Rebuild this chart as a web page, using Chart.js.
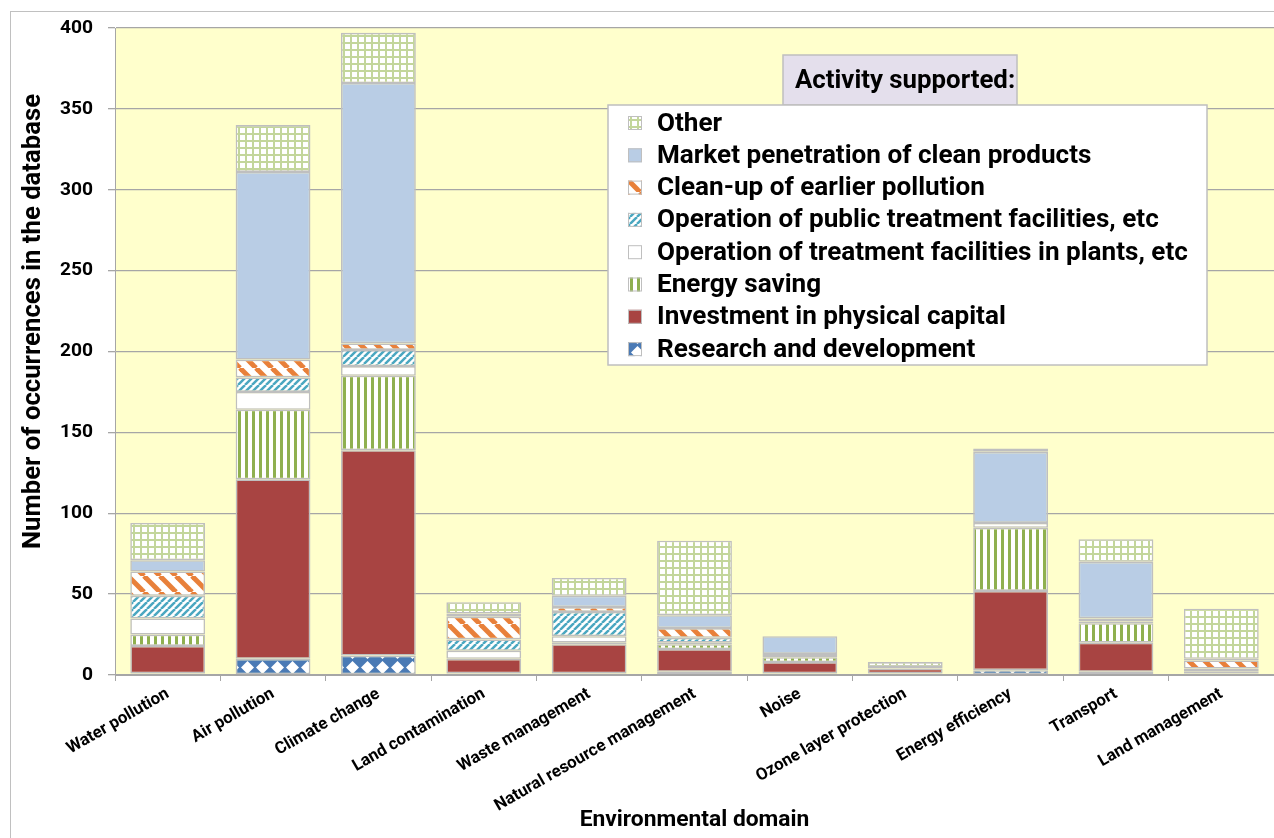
<!DOCTYPE html>
<html>
<head>
<meta charset="utf-8">
<script src="https://cdn.jsdelivr.net/npm/chart.js@4.4.1/dist/chart.umd.min.js"></script>
<style>
  html, body { margin: 0; padding: 0; background: #fff; }
  #wrap { width: 1274px; height: 838px; }
</style>
</head>
<body>
<div id="wrap"><canvas id="chart" width="1274" height="838"></canvas></div>
<script>
// categories (environmental domains)
const categories = [
    "Water pollution", "Air pollution", "Climate change", "Land contamination",
    "Waste management", "Natural resource management", "Noise",
    "Ozone layer protection", "Energy efficiency", "Transport", "Land management"
];

// series, bottom of the stack first
const researchDev       = [1, 10, 12, 1, 1, 2, 1, 1, 3, 2, 0];
const investment        = [17, 111, 127, 9, 18, 14, 7, 3, 49, 18, 1];
const energySaving      = [7, 43, 46, 0, 1, 3, 3, 0, 39, 12, 1];
const plantFacilities   = [10, 11, 6, 5, 4, 1, 2, 1, 3, 1, 2];
const publicFacilities  = [14, 9, 10, 7, 15, 3, 0, 0, 0, 2, 0];
const cleanUp           = [15, 11, 4, 14, 3, 6, 0, 0, 0, 0, 5];
const marketPenetration = [7, 116, 161, 2, 7, 8, 11, 0, 44, 35, 1];
const other             = [23, 29, 31, 7, 11, 46, 0, 3, 2, 14, 31];

const yTicks = [0, 50, 100, 150, 200, 250, 300, 350, 400];

const canvas = document.getElementById("chart");
const mainCtx = canvas.getContext("2d");
const FAMILY = "Roboto";

// pick a bold font size so that a string comes out at a given pixel width
function fitSize(text, width) {
    mainCtx.font = "bold 100px " + FAMILY;
    return Math.round(1000 * width / mainCtx.measureText(text).width) / 10;
}
const legendSize = fitSize("Operation of treatment facilities in plants, etc", 530);
const headingSize = fitSize("Activity supported:", 220);
const xTitleSize = fitSize("Environmental domain", 230);
const yTitleSize = fitSize("Number of occurrences in the database", 455);
const xTickSize = fitSize("Natural resource management", 230);
const yTickSize = fitSize("400", 33);

function makePattern(w, h, draw) {
    const tile = document.createElement("canvas");
    tile.width = w;
    tile.height = h;
    const g = tile.getContext("2d");
    draw(g, w, h);
    return mainCtx.createPattern(tile, "repeat");
}

// hatch fills, roughly like the Excel ones
const gridFill = makePattern(7, 7, (g, w, h) => {
    g.fillStyle = "#c3d69b";
    g.fillRect(0, 0, w, h);
    g.fillStyle = "#ffffff";
    g.fillRect(2, 2, 5, 5);
});
const orangeFill = makePattern(16, 16, (g, w, h) => {
    g.fillStyle = "#ffffff";
    g.fillRect(0, 0, w, h);
    g.strokeStyle = "#e8803a";
    g.lineWidth = 5;
    for (let x = -w; x <= w; x += w) {
        g.beginPath();
        g.moveTo(x, 0);
        g.lineTo(x + w, h);
        g.stroke();
    }
});
const tealFill = makePattern(7, 7, (g, w, h) => {
    g.fillStyle = "#ffffff";
    g.fillRect(0, 0, w, h);
    g.strokeStyle = "#4aa7c0";
    g.lineWidth = 2.5;
    for (let x = -w; x <= 2 * w; x += w) {
        g.beginPath();
        g.moveTo(x, h);
        g.lineTo(x + w, 0);
        g.stroke();
    }
});
const greenFill = makePattern(7, 7, (g, w, h) => {
    g.fillStyle = "#ffffff";
    g.fillRect(0, 0, w, h);
    g.fillStyle = "#8fb04f";
    g.fillRect(0, 0, 3, h);
});
const diamondFill = makePattern(15, 15, (g, w, h) => {
    g.fillStyle = "#4a7ab5";
    g.fillRect(0, 0, w, h);
    g.fillStyle = "#ffffff";
    g.beginPath();
    g.moveTo(w / 2, 1);
    g.lineTo(w - 1, h / 2);
    g.lineTo(w / 2, h - 1);
    g.lineTo(1, h / 2);
    g.closePath();
    g.fill();
});

const seriesDefs = [
    { label: "Research and development", data: researchDev, fill: diamondFill },
    { label: "Investment in physical capital", data: investment, fill: "#a84442" },
    { label: "Energy saving", data: energySaving, fill: greenFill },
    { label: "Operation of treatment facilities in plants, etc", data: plantFacilities, fill: "#ffffff" },
    { label: "Operation of public treatment facilities, etc", data: publicFacilities, fill: tealFill },
    { label: "Clean-up of earlier pollution", data: cleanUp, fill: orangeFill },
    { label: "Market penetration of clean products", data: marketPenetration, fill: "#b9cde5" },
    { label: "Other", data: other, fill: gridFill }
];

const GREY = "#a6a6a6";

// frame + yellow plot area
const backdrop = {
    id: "backdrop",
    beforeDraw(chart) {
        const { ctx, chartArea: a } = chart;
        ctx.save();
        ctx.strokeStyle = "#c0c0c0";
        ctx.lineWidth = 1;
        ctx.strokeRect(10.5, 11.5, chart.width + 20, chart.height + 20);
        ctx.fillStyle = "#ffffcc";
        ctx.fillRect(a.left, a.top, a.right - a.left, a.bottom - a.top);
        ctx.restore();
    }
};

// y axis title, sits a bit above the middle like the original
const yTitle = {
    id: "yTitle",
    afterDraw(chart) {
        const { ctx, chartArea: a } = chart;
        ctx.save();
        ctx.translate(34, (a.top + a.bottom) / 2 - 30);
        ctx.rotate(-Math.PI / 2);
        ctx.font = "bold " + yTitleSize + "px " + FAMILY;
        ctx.fillStyle = "#000";
        ctx.textAlign = "center";
        ctx.textBaseline = "middle";
        ctx.fillText("Number of occurrences in the database", 0, 0);
        ctx.restore();
    }
};

// boxed legend inside the plot with its heading
const boxLegend = {
    id: "boxLegend",
    afterDraw(chart) {
        const { ctx, chartArea: a } = chart;
        const bx = a.left + 493, by = a.top + 77, bw = 599, bh = 260;
        ctx.save();
        // heading box
        ctx.fillStyle = "#e4dfec";
        ctx.fillRect(a.left + 668, a.top + 27, 234, 50);
        ctx.strokeStyle = "#bfbfbf";
        ctx.lineWidth = 1.5;
        ctx.strokeRect(a.left + 668, a.top + 27, 234, 50);
        ctx.fillStyle = "#000";
        ctx.font = "bold " + headingSize + "px " + FAMILY;
        ctx.textAlign = "left";
        ctx.textBaseline = "middle";
        ctx.fillText("Activity supported:", a.left + 680, a.top + 54);

        ctx.fillStyle = "#ffffff";
        ctx.fillRect(bx, by, bw, bh);
        ctx.strokeRect(bx, by, bw, bh);

        ctx.font = "bold " + legendSize + "px " + FAMILY;
        const items = chart.data.datasets.slice().reverse();
        items.forEach((ds, i) => {
            const cy = by + 18 + i * 32.3;
            ctx.fillStyle = ds.backgroundColor;
            ctx.fillRect(bx + 20, cy - 7, 14, 14);
            ctx.strokeStyle = "#bfbfbf";
            ctx.lineWidth = 1;
            ctx.strokeRect(bx + 20.5, cy - 6.5, 13, 13);
            ctx.fillStyle = "#000";
            ctx.fillText(ds.label, bx + 49, cy + 1);
        });
        ctx.restore();
    }
};

new Chart(canvas, {
    type: "bar",
    data: {
        labels: categories,
        datasets: seriesDefs.map(s => ({
            label: s.label,
            data: s.data,
            backgroundColor: s.fill,
            borderColor: "#bfbfbf",
            borderWidth: 1.6,
            borderSkipped: false,
            barPercentage: 0.71,
            categoryPercentage: 1
        }))
    },
    options: {
        responsive: false,
        animation: false,
        events: [],
        layout: { padding: { top: 28, left: 0, right: 0, bottom: 0 } },
        plugins: {
            legend: { display: false },
            tooltip: { enabled: false }
        },
        scales: {
            x: {
                stacked: true,
                afterFit: s => { s.height = 163; },
                grid: {
                    drawOnChartArea: false,
                    drawTicks: true,
                    tickLength: 6,
                    color: GREY
                },
                border: { color: GREY, width: 1 },
                ticks: {
                    minRotation: 30,
                    maxRotation: 30,
                    autoSkip: false,
                    padding: 3,
                    color: "#000",
                    font: { family: FAMILY, weight: "bold", size: xTickSize }
                },
                title: {
                    display: true,
                    text: "Environmental domain",
                    color: "#000",
                    font: { family: FAMILY, weight: "bold", size: xTitleSize },
                    padding: { top: 0, bottom: 4 }
                }
            },
            y: {
                stacked: true,
                min: 0,
                max: 400,
                afterFit: s => { s.width = 115; },
                afterBuildTicks: s => { s.ticks = yTicks.map(v => ({ value: v })); },
                grid: {
                    color: GREY,
                    lineWidth: 1.3,
                    tickLength: 7
                },
                border: { color: GREY, width: 1 },
                ticks: {
                    padding: 15,
                    color: "#000",
                    font: { family: FAMILY, weight: "bold", size: yTickSize }
                }
            }
        }
    },
    plugins: [backdrop, yTitle, boxLegend]
});
</script>
</body>
</html>
